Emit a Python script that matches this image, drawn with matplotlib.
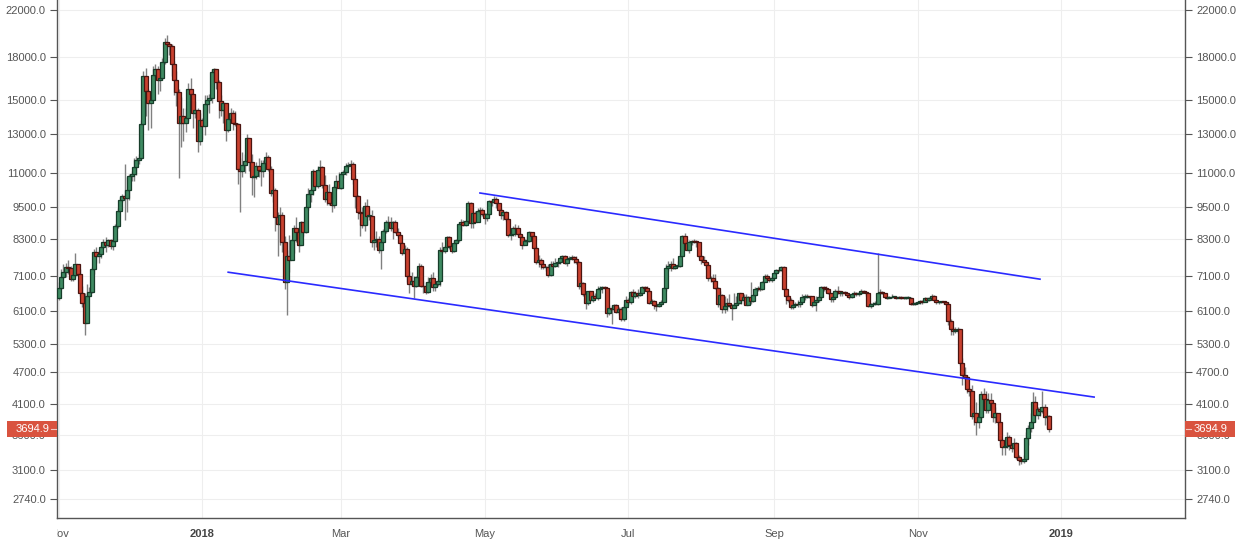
import matplotlib
matplotlib.use("Agg")
import matplotlib.pyplot as plt
import matplotlib.dates as mdates
from matplotlib.patches import Rectangle
from matplotlib.lines import Line2D
from matplotlib.transforms import Bbox, TransformedBbox, IdentityTransform
import numpy as np
import datetime as dt

plt.rcParams['font.family'] = ['Liberation Sans', 'DejaVu Sans']

# daily candles, 2017-11-01 .. 2018-12-27, one row per month
START = dt.date(2017, 11, 1)
FIRST_OPEN = 6450

close_px = [
    # Nov 2017
    6740, 7060, 7200, 7350, 7330, 6990, 7120, 7450, 7150, 6600, 6320, 5800, 6500, 6620, 7300, 7850, 7700, 7780, 8030, 8200, 8070, 8250, 8040, 8240, 8780, 9330, 9800, 9950, 9880, 10200,
    # Dec 2017
    10850, 10920, 11250, 11600, 11700, 13540, 16600, 15600, 14800, 15000, 16700, 17100, 16300, 16450, 17600, 19200, 19000, 18900, 17500, 16300, 15500, 13600, 14000, 13600, 13900, 15700, 15400, 14200, 14400, 12600, 13800,
    # Jan 2018
    13400, 14750, 15000, 15150, 16900, 17100, 16200, 14900, 14400, 14800, 13200, 13850, 14200, 13600, 13550, 11200, 11100, 11350, 11550, 12750, 11500, 10800, 10850, 11300, 11150, 11100, 11450, 11750, 11200, 10100, 10200,
    # Feb 2018
    9100, 8850, 9200, 8200, 6900, 7700, 7600, 8250, 8700, 8550, 8100, 8900, 8550, 9500, 10050, 10200, 11100, 10400, 11150, 11250, 10450, 9850, 10150, 9650, 9600, 10350, 10600, 10300,
    # Mar 2018
    10950, 11050, 11300, 11350, 11400, 10700, 9950, 9300, 9250, 8800, 9550, 9150, 9150, 8200, 8250, 8300, 7900, 8200, 8600, 8900, 8900, 8700, 8900, 8550, 8450, 8150, 7800, 7950, 7100, 6850, 6950,
    # Apr 2018
    6800, 7050, 7400, 6800, 6780, 6620, 6900, 7020, 6770, 6840, 6940, 7920, 7890, 8000, 8350, 8050, 7890, 8170, 8270, 8850, 8920, 8800, 8940, 9650, 8870, 9280, 8930, 9350, 9400, 9240,
    # May 2018
    9080, 9220, 9750, 9700, 9850, 9650, 9380, 9190, 9320, 9030, 8430, 8480, 8700, 8680, 8480, 8350, 8070, 8240, 8240, 8530, 8400, 7990, 7520, 7590, 7470, 7350, 7350, 7110, 7470, 7390, 7500,
    # Jun 2018
    7530, 7640, 7720, 7500, 7630, 7650, 7680, 7620, 7530, 6780, 6880, 6550, 6310, 6640, 6400, 6500, 6460, 6700, 6740, 6760, 6720, 6050, 6170, 6150, 6250, 6090, 6150, 5890, 6210, 6390,
    # Jul 2018
    6350, 6620, 6500, 6590, 6530, 6600, 6760, 6720, 6660, 6310, 6380, 6250, 6230, 6280, 6350, 6730, 7320, 7380, 7470, 7330, 7400, 7400, 7720, 8400, 8170, 7930, 8180, 8220, 8210, 8180, 7730,
    # Aug 2018
    7600, 7530, 7410, 7010, 7030, 6940, 6720, 6280, 6540, 6150, 6240, 6320, 6250, 6190, 6270, 6310, 6580, 6400, 6490, 6270, 6470, 6370, 6530, 6700, 6740, 6700, 6920, 7090, 7030, 6980, 7030,
    # Sep 2018
    7190, 7270, 7260, 7370, 6700, 6510, 6410, 6200, 6250, 6290, 6280, 6330, 6490, 6490, 6520, 6500, 6250, 6350, 6390, 6490, 6760, 6720, 6710, 6590, 6420, 6470, 6650, 6640, 6600, 6620,
    # Oct 2018
    6580, 6530, 6480, 6560, 6600, 6570, 6590, 6650, 6630, 6580, 6230, 6280, 6290, 6300, 6600, 6620, 6600, 6480, 6460, 6470, 6480, 6490, 6460, 6480, 6460, 6450, 6460, 6460, 6300, 6290, 6320,
    # Nov 2018
    6340, 6370, 6340, 6450, 6390, 6440, 6520, 6400, 6330, 6350, 6350, 6340, 6300, 5850, 5650, 5600, 5620, 5650, 4900, 4650, 4600, 4380, 4350, 3900, 3950, 3800, 3880, 4280, 4200, 4000,
    # Dec 2018
    4180, 4130, 3880, 3950, 3800, 3520, 3420, 3430, 3570, 3450, 3400, 3480, 3280, 3240, 3220, 3250, 3550, 3700, 3800, 4150, 3920, 4020, 3980, 4050, 3880, 3900, 3694.9,
]

high_px = [
    6900, 7300, 7450, 7500, 7600, 7400, 7200, 7800, 7450, 7300, 6800, 6600, 6850, 6750, 7350, 7950, 8000, 7900, 8100, 8300, 8350, 8300, 8300, 8330, 8850, 9450, 9900, 10050, 11400, 10800,
    10950, 11100, 11700, 11800, 11900, 13800, 17000, 17200, 15700, 15500, 17300, 17500, 17300, 16900, 17900, 19500, 19800, 19200, 19000, 17700, 17000, 15700, 15200, 14500, 14500, 16100, 16500, 15400, 14900, 14500, 14200,
    13900, 15300, 15300, 15400, 17100, 17200, 17100, 16300, 15300, 14900, 14800, 14000, 14500, 14400, 14300, 13600, 11700, 12000, 11900, 13000, 12700, 11900, 11300, 11500, 11700, 11600, 11600, 12000, 11850, 11300, 10400,
    10300, 9300, 9500, 9300, 8400, 7900, 8450, 8300, 8800, 9100, 8600, 8950, 8900, 9550, 10300, 10300, 11200, 11100, 11300, 11600, 11300, 10900, 10450, 10500, 9850, 10450, 10900, 11050,
    11050, 11150, 11450, 11500, 11600, 11500, 10900, 10000, 9400, 9500, 9700, 9850, 9450, 9400, 8400, 8600, 8400, 8300, 8650, 9000, 9150, 9100, 8950, 9000, 8700, 8500, 8200, 8100, 8000, 7250, 7200,
    7100, 7100, 7500, 7450, 6950, 6900, 7050, 7150, 7200, 6900, 7000, 8000, 8200, 8100, 8400, 8400, 8150, 8250, 8300, 8900, 9050, 9000, 9000, 9750, 9700, 9300, 9350, 9450, 9500, 9450,
    9250, 9250, 9800, 9850, 9950, 9900, 9650, 9450, 9370, 9350, 9050, 8650, 8750, 8850, 8800, 8500, 8450, 8300, 8400, 8600, 8550, 8450, 8050, 7750, 7650, 7600, 7400, 7470, 7550, 7550, 7650,
    7600, 7700, 7750, 7750, 7650, 7700, 7750, 7700, 7700, 7550, 6950, 6900, 6620, 6650, 6650, 6550, 6600, 6800, 6800, 6800, 6800, 6750, 6250, 6250, 6300, 6280, 6200, 6200, 6300, 6500,
    6450, 6650, 6700, 6650, 6700, 6650, 6800, 6800, 6800, 6700, 6420, 6400, 6350, 6350, 6400, 6750, 7450, 7550, 7550, 7650, 7450, 7550, 7800, 8450, 8500, 8300, 8250, 8250, 8300, 8250, 8200,
    7750, 7700, 7550, 7500, 7100, 7150, 7150, 6750, 6650, 6550, 6500, 6450, 6550, 6280, 6600, 6500, 6600, 6600, 6550, 6550, 6500, 6900, 6550, 6750, 6800, 6800, 6950, 7150, 7150, 7050, 7100,
    7250, 7300, 7350, 7400, 7400, 6700, 6550, 6450, 6400, 6350, 6400, 6350, 6550, 6550, 6550, 6520, 6520, 6400, 6500, 6530, 6780, 6800, 6780, 6720, 6600, 6550, 6700, 6780, 6650, 6640,
    6650, 6600, 6550, 6600, 6650, 6620, 6620, 6700, 6680, 6650, 6580, 6320, 6350, 6380, 7800, 6700, 6650, 6600, 6520, 6500, 6550, 6520, 6500, 6520, 6500, 6490, 6480, 6500, 6470, 6320, 6350,
    6380, 6400, 6400, 6480, 6450, 6470, 6550, 6530, 6400, 6380, 6380, 6380, 6350, 6350, 5900, 5700, 5700, 5700, 5650, 5000, 4800, 4650, 4420, 4450, 4200, 4150, 3950, 4350, 4400, 4350,
    4300, 4300, 4150, 4050, 3950, 3800, 3550, 3550, 3650, 3600, 3450, 3550, 3500, 3300, 3260, 3300, 3650, 3750, 3950, 4320, 4250, 4050, 4060, 4350, 4100, 3920, 3920,
]

low_px = [
    6400, 6700, 7000, 7050, 7150, 6950, 6950, 7050, 7100, 6500, 6200, 5500, 5800, 6500, 6600, 7150, 7500, 7500, 7650, 7950, 7850, 8000, 7950, 7900, 8200, 8700, 9350, 9700, 9000, 9300,
    9800, 10600, 10600, 10900, 11400, 11650, 13500, 14000, 13200, 13300, 15000, 16300, 15400, 15600, 16300, 17500, 18700, 18200, 16600, 15300, 14600, 10750, 12300, 12600, 13100, 13700, 14800, 13300, 13900, 12000, 12400,
    12700, 12900, 14300, 14200, 14800, 16200, 15700, 13900, 14000, 13600, 12600, 13100, 13600, 13200, 13400, 10500, 9300, 10800, 11000, 11500, 11100, 10000, 9900, 10700, 10800, 10400, 10800, 11500, 11100, 9950, 9700,
    8600, 7700, 8100, 7850, 6700, 6000, 7200, 7600, 7800, 8200, 7850, 8100, 8400, 8500, 9400, 9700, 10000, 10200, 10300, 11100, 10300, 9700, 9600, 9600, 9300, 9450, 10200, 10300,
    10250, 10750, 10900, 11200, 11150, 10500, 9450, 9050, 8400, 8700, 8600, 8800, 9000, 8000, 7900, 8000, 7800, 7300, 8200, 8500, 8800, 8600, 8300, 8500, 8350, 7900, 7750, 7850, 6900, 6600, 6800,
    6450, 6750, 7000, 6750, 6600, 6550, 6600, 6900, 6650, 6650, 6800, 6800, 7800, 7800, 8000, 7950, 7800, 7850, 8100, 8200, 8600, 8750, 8750, 8900, 8700, 8700, 8900, 8900, 9100, 9150,
    8850, 8950, 9200, 9550, 9650, 9450, 9200, 9050, 9000, 8950, 8350, 8250, 8400, 8400, 8400, 8100, 7950, 8100, 8150, 8200, 8350, 7900, 7450, 7350, 7300, 7300, 7250, 7050, 7080, 7350, 7350,
    7350, 7450, 7600, 7450, 7400, 7550, 7600, 7500, 7450, 6700, 6650, 6500, 6150, 6250, 6400, 6350, 6450, 6400, 6650, 6600, 6700, 5950, 6000, 5780, 6100, 6050, 6000, 5850, 5850, 6200,
    6250, 6300, 6450, 6450, 6450, 6500, 6550, 6650, 6650, 6280, 6280, 6150, 6100, 6200, 6250, 6330, 6650, 7250, 7250, 7300, 7300, 7350, 7350, 7700, 8050, 7900, 7800, 8100, 8150, 8000, 7650,
    7450, 7450, 7300, 6950, 6900, 6850, 6700, 6200, 6250, 6050, 6050, 6100, 6200, 5880, 6170, 6220, 6300, 6300, 6300, 6250, 6250, 6300, 6350, 6500, 6650, 6650, 6680, 6900, 6990, 6900, 6900,
    7000, 7150, 7200, 7230, 6700, 6300, 6350, 6150, 6150, 6200, 6200, 6200, 6300, 6400, 6450, 6450, 6200, 6250, 6100, 6350, 6450, 6650, 6620, 6550, 6350, 6350, 6420, 6550, 6500, 6520,
    6550, 6480, 6430, 6460, 6530, 6520, 6520, 6570, 6590, 6500, 6200, 6180, 6250, 6250, 6250, 6550, 6550, 6450, 6420, 6440, 6450, 6450, 6430, 6450, 6430, 6420, 6430, 6440, 6250, 6260, 6270,
    6280, 6300, 6300, 6330, 6350, 6360, 6430, 6380, 6300, 6300, 6320, 6300, 6260, 5750, 5500, 5500, 5550, 5550, 4850, 4450, 4450, 4300, 4250, 3850, 3750, 3600, 3700, 3850, 4100, 3950,
    3950, 4050, 3800, 3780, 3750, 3450, 3300, 3300, 3400, 3380, 3350, 3380, 3250, 3170, 3180, 3200, 3220, 3450, 3650, 3780, 3800, 3850, 3900, 3950, 3750, 3700, 3650,
]

# trend channel endpoints (date, price)
upper_line = [(dt.date(2018, 4, 29), 10090), (dt.date(2018, 12, 23), 6990)]
lower_line = [(dt.date(2018, 1, 12), 7200), (dt.date(2019, 1, 15), 4230)]

y_ticks = [2740, 3100, 3600, 4100, 4700, 5300, 6100, 7100, 8300, 9500, 11000, 13000, 15000, 18000, 22000]
x_tick_dates = [dt.date(2017, 11, 1), dt.date(2018, 1, 1), dt.date(2018, 3, 1), dt.date(2018, 5, 1),
                dt.date(2018, 7, 1), dt.date(2018, 9, 1), dt.date(2018, 11, 1), dt.date(2019, 1, 1)]
x_tick_labels = ["Nov", "2018", "Mar", "May", "Jul", "Sep", "Nov", "2019"]
last_price = 3694.9

close_px = np.array(close_px, dtype=float)
high_px = np.array(high_px, dtype=float)
low_px = np.array(low_px, dtype=float)
open_px = np.concatenate([[FIRST_OPEN], close_px[:-1]])
n = len(close_px)
dates = np.array([mdates.date2num(START + dt.timedelta(days=i)) for i in range(n)])

RED = '#c9412f'
RED_EDGE = '#4a1410'
GREEN = '#3f8a62'
GREEN_EDGE = '#173d2a'
WICK = '#808080'
TAG = '#d9533f'

fig = plt.figure(figsize=(12.42, 5.43), dpi=100)
ax = fig.add_axes([57 / 1242, 25 / 543, (1185 - 57) / 1242, 518 / 543])
ax.set_yscale('log')

up = close_px >= open_px
ax.vlines(dates, low_px, high_px, color=WICK, linewidth=1.0, zorder=2)
bottom = np.minimum(open_px, close_px)
height = np.maximum(np.abs(close_px - open_px), bottom * 0.003)
ax.bar(dates, height, bottom=bottom, width=1.7,
       color=np.where(up, GREEN, RED), edgecolor=np.where(up, GREEN_EDGE, RED_EDGE),
       linewidth=0.9, zorder=3)

for line in (upper_line, lower_line):
    ax.plot([mdates.date2num(d) for d, _ in line], [p for _, p in line],
            color='#2a2aff', linewidth=1.2, zorder=4)

ax.set_xlim(mdates.date2num(dt.datetime(2017, 10, 31, 6)), mdates.date2num(dt.datetime(2019, 2, 22, 15)))
ax.set_ylim(2527, 22960)

ax.yaxis.set_major_locator(matplotlib.ticker.FixedLocator(y_ticks))
ax.yaxis.set_minor_locator(matplotlib.ticker.NullLocator())
ax.set_yticklabels(["%.1f" % v for v in y_ticks])
ax.tick_params(axis='y', which='both', left=True, right=True, labelleft=True, labelright=True,
               direction='out', length=5, width=0.8, color='#555555', labelcolor='#555555',
               labelsize=8, pad=3)

ax.set_xticks([mdates.date2num(d) for d in x_tick_dates])
ax.set_xticklabels(x_tick_labels)
ax.tick_params(axis='x', length=0, labelcolor='#555555', labelsize=8, pad=8)
clip = TransformedBbox(Bbox([[0, -1], [1, 1]]), ax.transAxes)
for lab in ax.get_xticklabels():
    if lab.get_text() in ("2018", "2019"):
        lab.set_fontweight('bold')
        lab.set_color('#444444')
    lab.set_clip_box(clip)
    lab.set_clip_on(True)

ax.grid(True, color='#eeeeee', linewidth=0.8, zorder=0)
ax.set_axisbelow(True)
for side in ('left', 'right', 'bottom'):
    ax.spines[side].set_color('#555555')
    ax.spines[side].set_linewidth(1.0)
ax.spines['top'].set_visible(False)

# last price tags on both sides, in pixel coordinates
y_pix = ax.transData.transform((dates[-1], last_price))[1]
x_left, x_right = ax.transAxes.transform((0, 0))[0], ax.transAxes.transform((1, 0))[0]
for x0, tick_x in ((x_left - 50, (x_left - 6, x_left - 1)), (x_right, (x_right + 1, x_right + 6))):
    fig.add_artist(Rectangle((x0, y_pix - 8), 50, 16, transform=IdentityTransform(),
                             facecolor=TAG, edgecolor='none', zorder=5))
    fig.add_artist(Line2D(tick_x, (y_pix, y_pix), transform=IdentityTransform(),
                          color='#f3c7c0', linewidth=0.8, zorder=6))
    fig.text((x0 + 25) / fig.bbox.width, y_pix / fig.bbox.height, "%.1f" % last_price,
             ha='center', va='center', color='white', fontsize=8, zorder=7)

fig.savefig('out.png', dpi=100)
